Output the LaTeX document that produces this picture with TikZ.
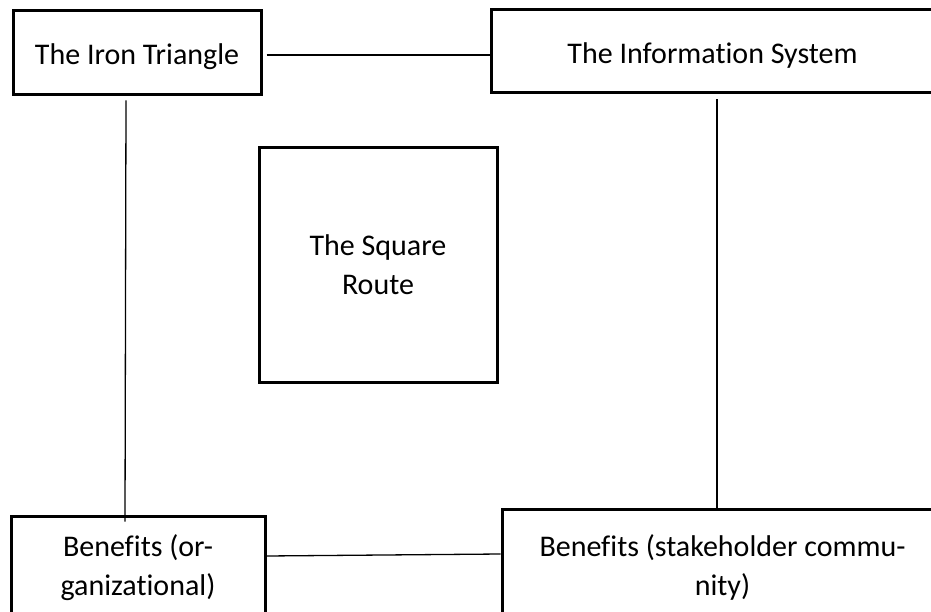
\documentclass[tikz,border=0pt]{standalone}
\usepackage{fontspec}
\setmainfont{Carlito}[Ligatures=NoCommon]
\begin{document}
\begin{tikzpicture}[x=1pt,y=-1pt,
  box/.style={draw=black,line width=3pt,inner sep=0pt,align=center,
    font=\fontsize{30}{39}\selectfont},
  oneline/.style={text height=30pt,text depth=6pt},
  link/.style={draw=black,line width=1.3pt}]
\useasboundingbox (0,0) rectangle (931,612);
\clip (0,0) rectangle (931,612);
\fill[white] (0,0) rectangle (931,612);
\node[box,oneline,minimum width=248pt,minimum height=84pt] (it) at (137,53) {The Iron Triangle};
\node[box,oneline,minimum width=443pt,minimum height=83pt] (is) at (712.5,51.5) {The Information System};
\node[box,minimum width=238pt,minimum height=235pt] (sq) at (378,265) {The Square\\Route};
\node[box,minimum width=254pt,minimum height=104pt] (bo) at (138,568) {Benefits (or-\\ganizational)};
\node[box,minimum width=441pt,minimum height=116pt] (bs) at (722.5,567) {Benefits (stakeholder commu-\\nity)};
\draw[link] ([xshift=4pt,yshift=-2pt]it.east) -- ([yshift=-2pt]it.east -| is.west);
\draw[link] ([xshift=-11pt,yshift=-4pt]it.south) -- ([xshift=-13pt,yshift=-7pt]bo.north);
\draw[link] ([xshift=4.5pt,yshift=-5pt]is.south) -- ([xshift=-5.5pt]bs.north);
\draw[link] ([yshift=12pt]bo.east) -- ([yshift=13pt]bs.west);
\end{tikzpicture}
\end{document}
